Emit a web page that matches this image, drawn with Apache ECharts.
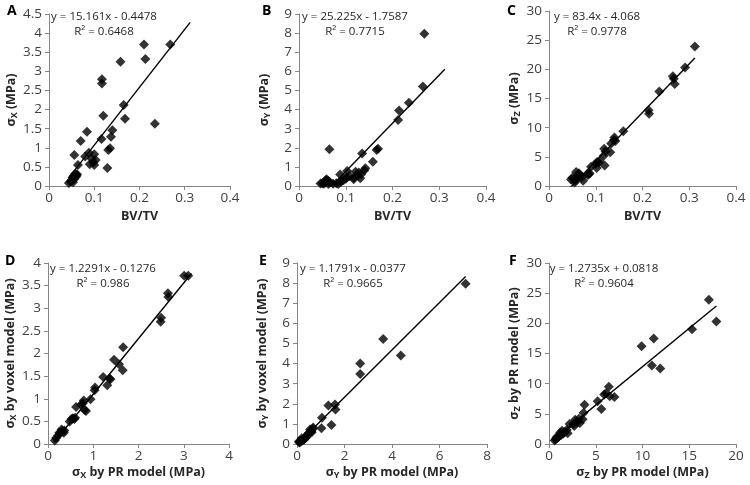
<!DOCTYPE html>
<html><head><meta charset="utf-8">
<script src="https://cdn.jsdelivr.net/npm/echarts@6/dist/echarts.min.js"></script>
<style>html,body{margin:0;padding:0;background:#fff}#c{width:750px;height:485px}</style>
</head><body><div id="c"></div>
<script>
// ---- Panel A: BV/TV vs sigma_X ----
const aX = [0.210,0.268,0.213,0.158,0.117,0.117,0.165,0.120,0.168,0.234,0.084,0.140,0.070,0.116,0.137,0.135,0.131,0.056,0.080,0.088,0.100,0.103,0.090,0.100,0.129,0.064,0.058,0.061,0.060,0.055,0.052,0.056,0.050,0.048,0.044,0.053,0.062,0.094,0.098];
const aY = [3.70,3.70,3.32,3.25,2.79,2.68,2.12,1.84,1.76,1.63,1.42,1.46,1.18,1.23,1.29,0.99,0.94,0.81,0.77,0.87,0.83,0.68,0.57,0.55,0.47,0.55,0.32,0.28,0.24,0.27,0.22,0.18,0.15,0.12,0.08,0.10,0.31,0.72,0.62];
// ---- Panel B: BV/TV vs sigma_Y ----
const bX = [0.268,0.265,0.235,0.214,0.212,0.169,0.166,0.135,0.158,0.065,0.142,0.140,0.103,0.121,0.088,0.128,0.117,0.117,0.131,0.108,0.100,0.095,0.090,0.084,0.080,0.073,0.066,0.062,0.059,0.057,0.056,0.053,0.050,0.046,0.063,0.102,0.126,0.133];
const bY = [7.97,5.20,4.35,3.95,3.45,1.95,1.88,1.70,1.27,1.92,0.93,0.82,0.78,0.75,0.60,0.70,0.45,0.35,0.40,0.52,0.38,0.30,0.22,0.10,0.15,0.12,0.20,0.28,0.35,0.30,0.18,0.12,0.15,0.13,0.10,0.45,0.55,0.62];
// ---- Panel C: BV/TV vs sigma_Z ----
const cX = [0.312,0.291,0.265,0.267,0.269,0.236,0.213,0.214,0.159,0.140,0.139,0.142,0.133,0.131,0.118,0.121,0.117,0.119,0.103,0.106,0.100,0.102,0.090,0.087,0.083,0.085,0.073,0.064,0.062,0.060,0.057,0.055,0.053,0.050,0.047,0.066,0.070,0.058,0.108];
const cY = [23.9,20.3,18.8,18.4,17.5,16.2,13.0,12.4,9.4,8.3,7.9,7.7,7.3,5.8,6.4,5.9,5.2,3.5,4.1,4.0,3.8,3.1,3.3,2.2,1.9,2.0,0.9,2.2,1.8,1.5,1.0,0.6,1.2,1.4,1.1,1.9,1.5,2.4,4.3];
// ---- Panel D: sigma_X PR vs voxel ----
const dX = [3.01,3.10,2.65,2.66,2.50,2.49,1.66,1.46,1.57,1.65,1.22,1.36,1.31,1.04,1.03,0.94,0.79,0.77,0.81,0.84,0.62,0.60,0.55,0.52,0.48,0.36,0.33,0.30,0.28,0.25,0.22,0.18,0.15,0.35,0.73,1.38,0.58];
const dY = [3.72,3.72,3.33,3.25,2.79,2.70,2.14,1.86,1.76,1.63,1.48,1.45,1.30,1.25,1.19,0.99,0.96,0.90,0.75,0.73,0.82,0.58,0.57,0.55,0.50,0.30,0.28,0.32,0.26,0.25,0.18,0.13,0.08,0.25,0.87,1.43,0.55];
// ---- Panel E: sigma_Y PR vs voxel ----
const eX = [7.10,3.63,4.37,2.66,2.66,1.32,1.60,1.62,1.05,1.45,1.03,0.68,0.66,0.60,0.57,0.55,0.50,0.45,0.40,0.36,0.32,0.28,0.25,0.22,0.18,0.15,0.12,0.10,0.20,0.30,0.15,0.62,0.40,0.08,0.35];
const eY = [7.97,5.22,4.40,4.00,3.48,1.91,1.97,1.72,1.30,0.94,0.78,0.82,0.75,0.65,0.60,0.72,0.55,0.48,0.40,0.35,0.30,0.25,0.20,0.18,0.15,0.12,0.10,0.08,0.28,0.22,0.18,0.58,0.35,0.12,0.30];
// ---- Panel F: sigma_Z PR vs voxel ----
const fX = [17.1,17.9,15.3,11.2,9.9,11.0,11.9,6.4,6.1,5.9,6.5,7.0,5.2,3.8,3.7,5.6,3.2,2.8,3.0,2.6,3.3,2.2,1.9,1.7,1.4,1.2,1.3,1.0,0.9,0.7,0.6,1.1,2.0,3.6,1.5,0.8,2.7];
const fY = [23.9,20.3,19.0,17.5,16.2,13.0,12.5,9.5,8.4,8.2,7.9,7.8,7.1,6.5,5.2,5.8,4.2,4.0,3.6,3.3,3.5,3.3,2.3,2.0,2.2,1.9,1.5,1.2,1.0,0.8,0.6,1.4,1.8,4.1,1.7,1.1,3.0];

// regression (slope, intercept, R²) and trendline x-extent
const slopes = [15.161, 25.225, 83.4, 1.2291, 1.1791, 1.2735];
const intercepts = [-0.4478, -1.7587, -4.068, -0.1276, -0.0377, 0.0818];
const eqTexts = ['y = 15.161x - 0.4478','y = 25.225x - 1.7587','y = 83.4x - 4.068','y = 1.2291x - 0.1276','y = 1.1791x - 0.0377','y = 1.2735x + 0.0818'];
const r2Texts = ['R² = 0.6468','R² = 0.7715','R² = 0.9778','R² = 0.986','R² = 0.9665','R² = 0.9604'];
const trendFrom = [0.044, 0.044, 0.044, 0.13, 0.08, 0.5];
const trendTo = [0.312, 0.312, 0.312, 3.17, 7.1, 17.9];

// axis ranges (tick labels)
const xMax = [0.4, 0.4, 0.4, 4, 8, 20];
const xStep = [0.1, 0.1, 0.1, 1, 2, 5];
const yMax = [4.5, 9, 30, 4, 9, 30];
const yStep = [0.5, 1, 5, 0.5, 1, 5];
const letters = ['A','B','C','D','E','F'];
const xNames = ['{b|BV/TV}','{b|BV/TV}','{b|BV/TV}','{b|σ}{s|X}{b| by PR model (MPa)}','{b|σ}{s|Y}{b| by PR model (MPa)}','{b|σ}{s|Z}{b| by PR model (MPa)}'];
const yNames = ['{b|σ}{s|X}{b| (MPa)}','{b|σ}{s|Y}{b| (MPa)}','{b|σ}{s|Z}{b| (MPa)}','{b|σ}{s|X}{b| by voxel model (MPa)}','{b|σ}{s|Y}{b| by voxel model (MPa)}','{b|σ}{s|Z}{b| by PR model (MPa)}'];

const xs = [aX,bX,cX,dX,eX,fX];
const ys = [aY,bY,cY,dY,eY,fY];

const FONT = 'Open Sans';
const grids = [
  {left:49, top:14, width:181, height:172},
  {left:299, top:14, width:187, height:172},
  {left:549, top:11, width:187, height:175},
  {left:48, top:263, width:181, height:181},
  {left:297, top:263, width:190, height:181},
  {left:549, top:263, width:187, height:181}
];
const letterPos = [[7,4],[262,4],[507,4],[5,254],[259,254],[509,254]];
const eqCenter = [104,355,597,103,353,604];
const eqTop = [17,17,17,269,269,269];

const rich = {
  b:{fontSize:12.5, fontWeight:'bold', fontFamily:FONT, color:'#262626'},
  s:{fontSize:9, fontWeight:'bold', fontFamily:FONT, color:'#262626', verticalAlign:'bottom', padding:[7,0,0,0]}
};
const axisCommon = {
  axisLine:{show:true, onZero:false, lineStyle:{color:'#868686', width:1}},
  axisTick:{show:true, inside:false, length:4, lineStyle:{color:'#868686'}},
  splitLine:{show:false},
  axisLabel:{color:'#404040', fontSize:13.5, fontFamily:FONT},
  nameLocation:'middle'
};

const option = {
  animation:false,
  backgroundColor:'#fff',
  grid: grids,
  xAxis: grids.map((g,i)=>Object.assign({}, axisCommon, {
    type:'value', gridIndex:i, min:0, max:xMax[i], interval:xStep[i],
    name:xNames[i], nameGap: i<3 ? 24 : 20, nameTextStyle:{rich:rich},
    axisLabel:Object.assign({}, axisCommon.axisLabel, {margin:5})
  })),
  yAxis: grids.map((g,i)=>Object.assign({}, axisCommon, {
    type:'value', gridIndex:i, min:0, max:yMax[i], interval:yStep[i],
    name:yNames[i], nameGap: 27, nameTextStyle:{rich:rich},
    axisLabel:Object.assign({}, axisCommon.axisLabel, {margin:7})
  })),
  series: [],
  graphic: []
};

for (let i=0;i<6;i++){
  option.series.push({
    type:'scatter', xAxisIndex:i, yAxisIndex:i,
    data: xs[i].map((x,k)=>[x, ys[i][k]]),
    symbol:'diamond', symbolSize:10,
    itemStyle:{color:'#000'}, silent:true
  });
  const x0 = trendFrom[i], x1 = trendTo[i];
  option.series.push({
    type:'line', xAxisIndex:i, yAxisIndex:i, clip:true,
    data: [[x0, slopes[i]*x0+intercepts[i]], [x1, slopes[i]*x1+intercepts[i]]],
    showSymbol:false, symbol:'none', silent:true,
    lineStyle:{color:'#000', width:1.4}
  });
  option.graphic.push({type:'text', left:letterPos[i][0], top:letterPos[i][1],
    style:{text:letters[i], font:'bold 14px "Open Sans"', fill:'#000'}});
  option.graphic.push({type:'text', x:eqCenter[i], y:eqTop[i],
    style:{text:eqTexts[i], font:'11.5px "Open Sans"', fill:'#262626', textAlign:'center', textVerticalAlign:'middle'}});
  option.graphic.push({type:'text', x:eqCenter[i], y:eqTop[i]+15,
    style:{text:r2Texts[i], font:'11.5px "Open Sans"', fill:'#262626', textAlign:'center', textVerticalAlign:'middle'}});
}

const chart = echarts.init(document.getElementById('c'), null, {renderer:'canvas'});
chart.setOption(option);
</script></body></html>
